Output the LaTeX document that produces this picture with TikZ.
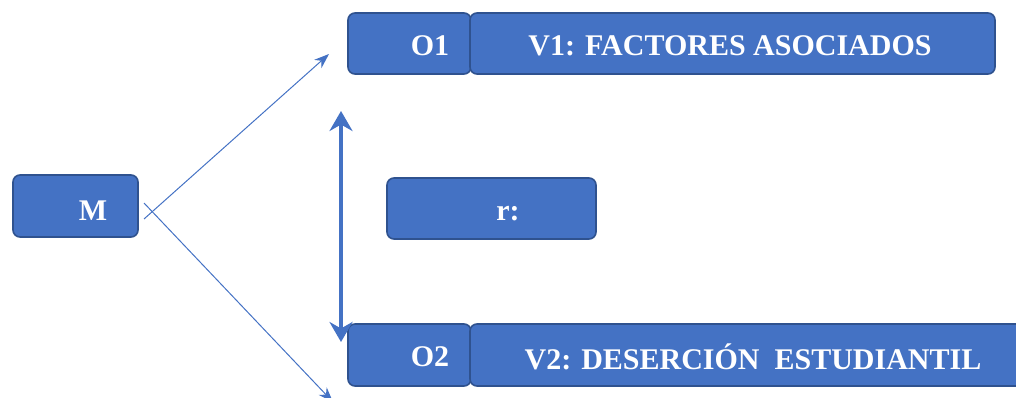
\documentclass[tikz,border=0pt]{standalone}
\usepackage{fontspec}
\setmainfont{Liberation Serif}
\usetikzlibrary{arrows.meta}
\definecolor{boxfill}{HTML}{4472C4}
\definecolor{boxline}{HTML}{2F528F}
\tikzset{
  box/.style={draw=boxline, line width=1.6pt, fill=boxfill, rounded corners=7pt, inner sep=0pt},
  lbl/.style={text=white, font=\bfseries\fontsize{30}{32}\selectfont, inner sep=0pt, anchor=center},
  thin/.style={draw=boxfill, line width=1pt, -{Stealth[length=15pt,width=11pt]}},
  thick/.style={draw=boxfill, line width=4.5pt, {Stealth[length=20pt,width=23pt]}-{Stealth[length=20pt,width=23pt]}}
}
\begin{document}
\begin{tikzpicture}[x=1pt,y=-1pt]
\useasboundingbox (0,0) rectangle (1016,398);
% boxes
\node[box, minimum width=125pt, minimum height=62pt] (M) at (75.5,206) {};
\node[box, minimum width=123pt, minimum height=61pt] (O1) at (409.5,43.5) {};
\node[box, minimum width=525pt, minimum height=61pt] (V1) at (732.5,43.5) {};
\node[box, minimum width=209pt, minimum height=61pt] (R) at (491.5,208.5) {};
\node[box, minimum width=123pt, minimum height=62pt] (O2) at (409.5,355) {};
\node[box, minimum width=560pt, minimum height=62pt] (V2) at (750,355) {};
% texts
\node[lbl] (tM) at (93,211) {M};
\node[lbl] (tO1) at (430,46) {O1};
\node[lbl] (tV1) at (730,46) {V1: FACTORES ASOCIADOS};
\node[lbl] (tR) at (508,214) {r:};
\node[lbl] (tO2) at (430,357) {O2};
\node[lbl] (tV2) at (753,357) {V2: DESERCIÓN\ \ ESTUDIANTIL};
% connectors
\coordinate (s1) at (144,219);
\coordinate (e1) at (329,54);
\coordinate (s2) at (144,203);
\coordinate (e2) at (333,402);
\coordinate (d1) at (341,111);
\coordinate (d2) at (341,342);
\draw[thin] (s1) -- (e1);
\draw[thin] (s2) -- (e2);
\draw[thick] (d2) -- (d1);
\end{tikzpicture}
\end{document}
